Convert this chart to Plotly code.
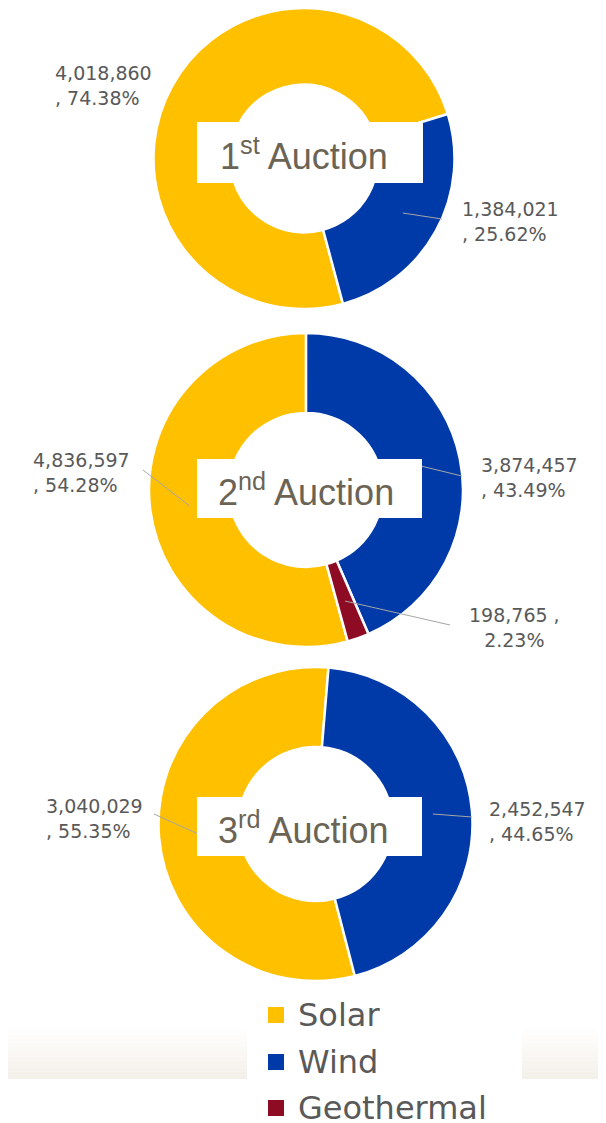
import math
import plotly.graph_objects as go

# page offset: the html body has an 8px margin
OFF = 8
W, H = 606 - OFF, 1123 - OFF

# ---------------- data ----------------
auctions = ["1st", "2nd", "3rd"]
labels_1 = ["Solar", "Wind"]
values_1 = [4018860, 1384021]
pct_1 = ["74.38%", "25.62%"]
labels_2 = ["Solar", "Wind", "Geothermal"]
values_2 = [4836597, 3874457, 198765]
pct_2 = ["54.28%", "43.49%", "2.23%"]
labels_3 = ["Solar", "Wind"]
values_3 = [3040029, 2452547]
pct_3 = ["55.35%", "44.65%"]
legend_labels = ["Solar", "Wind", "Geothermal"]

colors = {"Solar": "#FFC000", "Wind": "#003AA8", "Geothermal": "#8E0B24"}

# ---------------- layout constants (page pixels) ----------------
# (center x, center y, radius, rotation)
geo = [(304, 158.5, 150.5, 165.0), (306, 490, 157, 164.6), (315.5, 824, 157, 165.5)]
boxes = [(197, 122, 423, 183), (197, 459, 422, 518), (197, 797, 422, 856)]
title_pos = [(218, 154), (216, 490), (216, 828)]
# label placement: (x, y, xanchor, align, leader end or None)
label_pos = [
    [(53, 85, "left", "left", None), (460, 221, "left", "left", (442, 219))],
    [(31, 472, "left", "left", (143, 470)), (479, 477, "left", "left", (462, 476)),
     (514, 627, "center", "center", (450, 625))],
    [(44, 818, "left", "left", (154, 814)), (487, 821, "left", "left", (472, 817))],
]
legend_x_sym, legend_x_txt = 268, 296
legend_y = [1015, 1062, 1108]

data = [(labels_1, values_1, pct_1), (labels_2, values_2, pct_2), (labels_3, values_3, pct_3)]


def px(x):
    return min(1.0, max(0.0, (x - OFF) / W))


def py(y):
    return min(1.0, max(0.0, 1 - (y - OFF) / H))


fig = go.Figure()
shapes = []
annotations = []

# background band (gradient strips) behind legend area
band_top, band_bot = 1027, 1079
n = 14
c0 = (255, 255, 255)
c1 = (243, 239, 233)
for i in range(n):
    t = (i + 0.5) / n
    col = "rgb(%d,%d,%d)" % tuple(round(c0[k] + (c1[k] - c0[k]) * t) for k in range(3))
    y0 = band_top + (band_bot - band_top) * i / n
    y1 = band_top + (band_bot - band_top) * (i + 1) / n
    for xa, xb in [(OFF, 247), (522, 606)]:
        shapes.append(dict(type="rect", xref="paper", yref="paper", x0=px(xa), x1=px(xb),
                           y0=py(y1), y1=py(y0), fillcolor=col, line=dict(width=0),
                           layer="below"))

for k, ((labs, vals, pcts), (cx, cy, R, rot)) in enumerate(zip(data, geo)):
    fig.add_trace(go.Pie(
        labels=labs, values=vals, hole=0.49, sort=False, direction="clockwise",
        rotation=rot, textinfo="none", hoverinfo="label+value+percent",
        marker=dict(colors=[colors[l] for l in labs], line=dict(color="white", width=2.5)),
        domain=dict(x=[px(cx - R), px(cx + R)], y=[py(cy + R), py(cy - R)]),
        showlegend=False,
    ))
    total = sum(vals)
    cum = 0
    for i, v in enumerate(vals):
        mid = math.radians(rot + 360 * (cum + v / 2) / total)
        cum += v
        lx, ly, xanc, al, end = label_pos[k][i]
        if end is not None:
            r0 = 0.75 * R
            sx = cx + r0 * math.sin(mid)
            sy = cy - r0 * math.cos(mid)
            shapes.append(dict(type="line", xref="paper", yref="paper",
                               x0=px(sx), y0=py(sy), x1=px(end[0]), y1=py(end[1]),
                               line=dict(color="#a6a6a6", width=1)))
        if labs[i] == "Geothermal":
            txt = f"{v:,} ,<br>{pcts[i]}"
        else:
            txt = f"{v:,}<br>, {pcts[i]}"
        annotations.append(dict(x=px(lx), y=py(ly), xref="paper", yref="paper",
                                text=txt, showarrow=False, xanchor=xanc, yanchor="middle",
                                align=al, font=dict(family="DejaVu Sans", size=19, color="#595959")))
    bx0, by0, bx1, by1 = boxes[k]
    shapes.append(dict(type="rect", xref="paper", yref="paper", x0=px(bx0), x1=px(bx1),
                       y0=py(by1), y1=py(by0), fillcolor="white", line=dict(width=0),
                       layer="above"))
    tx, ty = title_pos[k]
    annotations.append(dict(x=px(tx), y=py(ty), xref="paper", yref="paper",
                            text=f"{auctions[k][0]}<sup>{auctions[k][1:]}</sup> Auction",
                            showarrow=False, xanchor="left", yanchor="middle",
                            font=dict(family="Liberation Sans, Arial", size=36, color="#6b6455")))

# legend (drawn as squares + text)
sq = 16
for lab, ly in zip(legend_labels, legend_y):
    shapes.append(dict(type="rect", xref="paper", yref="paper",
                       x0=px(legend_x_sym), x1=px(legend_x_sym + sq),
                       y0=py(ly + sq / 2), y1=py(ly - sq / 2),
                       fillcolor=colors[lab], line=dict(width=0)))
    annotations.append(dict(x=px(legend_x_txt), y=py(ly), xref="paper", yref="paper",
                            text=lab, showarrow=False, xanchor="left", yanchor="middle",
                            font=dict(family="DejaVu Sans", size=32, color="#595959")))

fig.update_layout(
    width=W, height=H, margin=dict(l=0, r=0, t=0, b=0),
    paper_bgcolor="white", plot_bgcolor="white",
    shapes=shapes, annotations=annotations, showlegend=False,
    xaxis=dict(visible=False), yaxis=dict(visible=False),
)

fig.write_html("out.html")
